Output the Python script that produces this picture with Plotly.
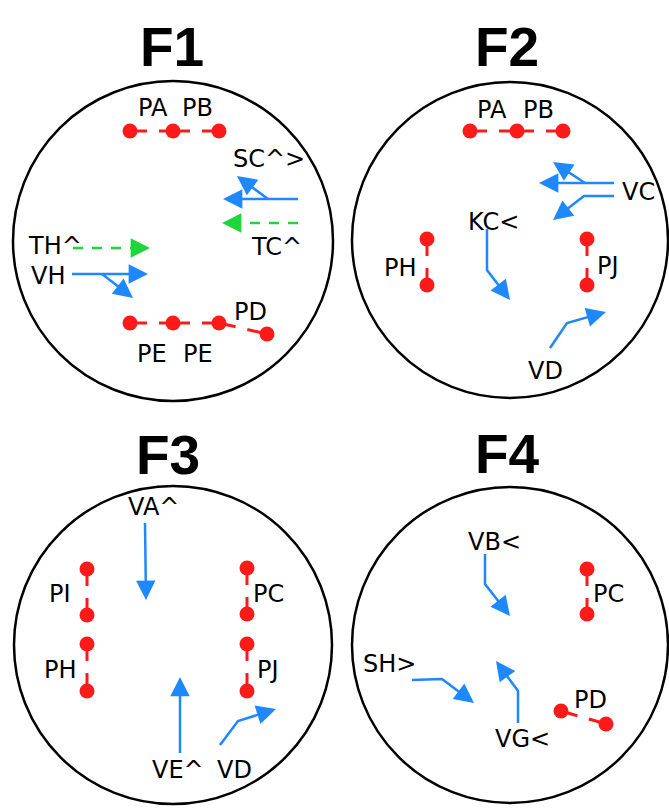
import math
import plotly.graph_objects as go

BLUE = "#1e88ff"
GREEN = "#1ed63c"
RED = "#ff1a1a"
LABEL_FONT = "DejaVu Sans"
TITLE_FONT = "Liberation Sans"

# panel titles and circle outlines
TITLES = ["F1", "F2", "F3", "F4"]
TITLE_X = [172, 507, 168, 507]
TITLE_Y = [47, 47, 455, 454]
CIRCLE_X = [173, 510, 173, 510]
CIRCLE_Y = [241, 240, 645, 645]
CIRCLE_R = [160, 158, 159, 158]

# red point chains (linked by dashed lines)
F1_CHAINS = [[(130, 131), (173, 131), (219, 131)],
             [(130, 323), (173, 323), (219, 323), (267, 334)]]
F2_CHAINS = [[(470, 131), (517, 131), (563, 131)],
             [(427, 239), (427, 285)],
             [(587, 239), (587, 285)]]
F3_CHAINS = [[(87, 569), (87, 615)], [(87, 644), (87, 691)],
             [(247, 568), (247, 614)], [(247, 644), (247, 691)]]
F4_CHAINS = [[(587, 569), (587, 614)], [(561, 711), (606, 724)]]

# arrows: polyline, colour, dashed; the last point is the tip
F1_ARROWS = [([(298, 199), (223, 199)], BLUE, False),
             ([(268, 199), (237, 176)], BLUE, False),
             ([(298, 223), (222, 223)], GREEN, True),
             ([(73, 248), (150, 248)], GREEN, True),
             ([(72, 274), (148, 274)], BLUE, False),
             ([(102, 274), (133, 298)], BLUE, False)]
F2_ARROWS = [([(614, 183), (539, 183)], BLUE, False),
             ([(585, 183), (553, 162)], BLUE, False),
             ([(614, 196), (584, 196), (553, 220)], BLUE, False),
             ([(487, 229), (487, 270), (510, 300)], BLUE, False),
             ([(550, 348), (567, 323), (606, 312)], BLUE, False)]
F3_ARROWS = [([(145, 523), (146, 600)], BLUE, False),
             ([(180, 753), (180, 677)], BLUE, False),
             ([(220, 745), (238, 721), (276, 709)], BLUE, False)]
F4_ARROWS = [([(485, 554), (485, 584), (510, 616)], BLUE, False),
             ([(412, 680), (442, 679), (474, 703)], BLUE, False),
             ([(518, 723), (518, 691), (496, 661)], BLUE, False)]

# text labels
F1_LABELS = [("PA", 153, 108), ("PB", 197, 108), ("SC^>", 269, 159),
             ("TC^", 276, 247), ("TH^", 55, 246), ("VH", 48, 276),
             ("PD", 250, 312), ("PE", 152, 354), ("PE", 198, 354)]
F2_LABELS = [("PA", 492, 110), ("PB", 538, 110), ("VC", 638, 192),
             ("KC<", 493, 222), ("PH", 400, 268), ("PJ", 608, 266),
             ("VD", 545, 371)]
F3_LABELS = [("VA^", 153, 507), ("PI", 60, 594), ("PH", 60, 670),
             ("PC", 268, 594), ("PJ", 268, 670), ("VE^", 178, 770),
             ("VD", 234, 770)]
F4_LABELS = [("VB<", 494, 542), ("PC", 608, 594), ("SH>", 389, 664),
             ("VG<", 522, 739), ("PD", 590, 700)]

CHAINS = F1_CHAINS + F2_CHAINS + F3_CHAINS + F4_CHAINS
ARROWS = F1_ARROWS + F2_ARROWS + F3_ARROWS + F4_ARROWS
LABELS = F1_LABELS + F2_LABELS + F3_LABELS + F4_LABELS

fig = go.Figure()

for cx, cy, r in zip(CIRCLE_X, CIRCLE_Y, CIRCLE_R):
    fig.add_shape(type="circle", xref="x", yref="y",
                  x0=cx - r, x1=cx + r, y0=cy - r, y1=cy + r,
                  line=dict(color="black", width=2.5))

# each link gets its own dashed segment so the dash starts at every point
for chain in CHAINS:
    for a, b in zip(chain[:-1], chain[1:]):
        fig.add_trace(go.Scatter(
            x=[a[0], b[0]], y=[a[1], b[1]], mode="lines",
            line=dict(color=RED, width=3, dash="17px,12px"),
            hoverinfo="skip"))
    fig.add_trace(go.Scatter(
        x=[p[0] for p in chain], y=[p[1] for p in chain],
        mode="markers", marker=dict(color=RED, size=15),
        hoverinfo="skip"))

for pts, color, dashed in ARROWS:
    (x0, y0), (x1, y1) = pts[-2], pts[-1]
    d = math.hypot(x1 - x0, y1 - y0)
    ux, uy = (x1 - x0) / d, (y1 - y0) / d
    # stop the shaft inside the head so the tip stays sharp
    xs = [p[0] for p in pts[:-1]] + [x1 - ux * 8]
    ys = [p[1] for p in pts[:-1]] + [y1 - uy * 8]
    fig.add_trace(go.Scatter(
        x=xs, y=ys, mode="lines",
        line=dict(color=color, width=2.5, dash="10px,9px" if dashed else "solid"),
        hoverinfo="skip"))
    tail = min(d, 20)
    fig.add_annotation(x=x1, y=y1, ax=x1 - ux * tail, ay=y1 - uy * tail,
                       xref="x", yref="y", axref="x", ayref="y",
                       text="", showarrow=True, arrowhead=2,
                       arrowsize=1.55, arrowwidth=2.5, arrowcolor=color)

for text, x, y in LABELS:
    fig.add_annotation(x=x, y=y, text=text, showarrow=False,
                       xanchor="center", yanchor="middle",
                       font=dict(family=LABEL_FONT, size=24, color="black"))

for text, x, y in zip(TITLES, TITLE_X, TITLE_Y):
    fig.add_annotation(x=x, y=y, text=text, showarrow=False,
                       xanchor="center", yanchor="middle",
                       font=dict(family=TITLE_FONT, size=55, color="black", weight="bold"))

fig.update_layout(
    width=669, height=809,
    margin=dict(l=0, r=0, t=0, b=0),
    showlegend=False,
    plot_bgcolor="white", paper_bgcolor="white",
    xaxis=dict(range=[0, 669], visible=False, fixedrange=True),
    yaxis=dict(range=[809, 0], visible=False, fixedrange=True),
)

fig.write_html("out.html", config={"displayModeBar": False},
               post_script="document.body.style.margin='0';")
